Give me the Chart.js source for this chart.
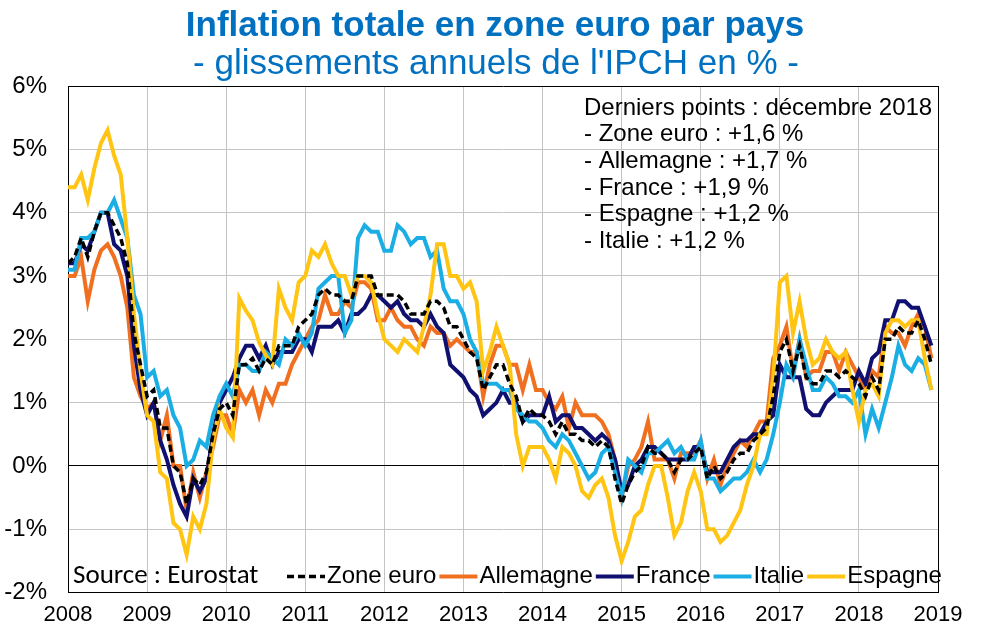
<!DOCTYPE html>
<html lang="fr">
<head>
<meta charset="utf-8">
<title>Inflation totale en zone euro par pays</title>
<script src="https://cdn.jsdelivr.net/npm/chart.js@4.4.1/dist/chart.umd.min.js"></script>
<style>
  html, body { margin: 0; padding: 0; background: #fff; }
</style>
</head>
<body>
<canvas id="chart" width="983" height="642"></canvas>
<script>
// Monthly annual rates of HICP, Jan 2008 -> Dec 2018 (one row per year)
const startYear = 2008;
const endYear = 2019;

const zoneEuro = [
  3.2, 3.3, 3.6, 3.3, 3.7, 4.0, 4.0, 3.8, 3.6, 3.2, 2.1, 1.6,
  1.1, 1.2, 0.6, 0.6, 0.0, -0.1, -0.6, -0.2, -0.3, -0.1, 0.5, 0.9,
  1.0, 0.8, 1.6, 1.6, 1.7, 1.5, 1.7, 1.6, 1.9, 1.9, 1.9, 2.2,
  2.3, 2.4, 2.7, 2.8, 2.7, 2.7, 2.6, 2.6, 3.0, 3.0, 3.0, 2.7,
  2.7, 2.7, 2.7, 2.6, 2.4, 2.4, 2.4, 2.6, 2.6, 2.5, 2.2, 2.2,
  2.0, 1.8, 1.7, 1.2, 1.4, 1.6, 1.6, 1.3, 1.1, 0.7, 0.9, 0.8,
  0.8, 0.7, 0.5, 0.7, 0.5, 0.5, 0.4, 0.4, 0.3, 0.4, 0.3, -0.2,
  -0.6, -0.3, -0.1, 0.0, 0.3, 0.2, 0.2, 0.1, -0.1, 0.1, 0.1, 0.2,
  0.3, -0.2, 0.0, -0.2, -0.1, 0.1, 0.2, 0.2, 0.4, 0.5, 0.6, 1.1,
  1.8, 2.0, 1.5, 1.9, 1.4, 1.3, 1.3, 1.5, 1.5, 1.4, 1.5, 1.4,
  1.3, 1.1, 1.4, 1.2, 2.0, 2.0, 2.2, 2.1, 2.1, 2.3, 2.0, 1.6
];

const allemagne = [
  3.0, 3.0, 3.3, 2.6, 3.1, 3.4, 3.5, 3.3, 3.0, 2.5, 1.4, 1.1,
  0.9, 1.0, 0.4, 0.8, 0.0, 0.0, -0.7, -0.1, -0.5, -0.1, 0.3, 0.8,
  0.8, 0.5, 1.2, 1.0, 1.2, 0.8, 1.2, 1.0, 1.3, 1.3, 1.6, 1.8,
  2.0, 2.2, 2.3, 2.7, 2.4, 2.4, 2.6, 2.5, 2.9, 2.9, 2.8, 2.3,
  2.3, 2.5, 2.3, 2.2, 2.2, 2.0, 1.9, 2.2, 2.1, 2.1, 1.9, 2.0,
  1.9, 1.8, 1.8, 1.1, 1.6, 1.9, 1.9, 1.6, 1.6, 1.2, 1.6, 1.2,
  1.2, 1.0, 0.9, 1.1, 0.6, 1.0, 0.8, 0.8, 0.8, 0.7, 0.5, 0.1,
  -0.5, 0.0, 0.1, 0.3, 0.7, 0.1, 0.1, 0.1, -0.2, 0.2, 0.2, 0.2,
  0.4, -0.2, 0.1, -0.3, 0.0, 0.2, 0.4, 0.3, 0.5, 0.7, 0.7, 1.7,
  1.9, 2.2, 1.5, 2.0, 1.4, 1.5, 1.5, 1.8, 1.8, 1.5, 1.8, 1.6,
  1.4, 1.2, 1.5, 1.4, 2.2, 2.1, 2.1, 1.9, 2.2, 2.4, 2.2, 1.7
];

const france = [
  3.2, 3.2, 3.5, 3.4, 3.7, 4.0, 4.0, 3.5, 3.4, 3.0, 1.9, 1.2,
  0.8, 1.0, 0.4, 0.1, -0.3, -0.6, -0.8, -0.2, -0.4, -0.2, 0.5, 1.0,
  1.2, 1.4, 1.7, 1.9, 1.9, 1.7, 1.9, 1.6, 1.8, 1.8, 1.8, 2.0,
  2.0, 1.8, 2.2, 2.2, 2.2, 2.3, 2.1, 2.4, 2.4, 2.5, 2.7, 2.7,
  2.6, 2.5, 2.6, 2.4, 2.3, 2.3, 2.2, 2.4, 2.2, 2.1, 1.6, 1.5,
  1.4, 1.2, 1.1, 0.8, 0.9, 1.0, 1.2, 1.0, 1.0, 0.7, 0.8, 0.8,
  0.8, 1.1, 0.7, 0.8, 0.8, 0.6, 0.6, 0.5, 0.4, 0.5, 0.4, 0.1,
  -0.4, -0.3, 0.0, 0.1, 0.3, 0.3, 0.2, 0.1, 0.1, 0.1, 0.1, 0.3,
  0.3, -0.1, -0.1, -0.1, 0.1, 0.3, 0.4, 0.4, 0.5, 0.5, 0.7, 0.8,
  1.6, 1.4, 1.4, 1.4, 0.9, 0.8, 0.8, 1.0, 1.1, 1.2, 1.2, 1.2,
  1.5, 1.3, 1.7, 1.8, 2.3, 2.3, 2.6, 2.6, 2.5, 2.5, 2.2, 1.9
];

const italie = [
  3.1, 3.1, 3.6, 3.6, 3.7, 4.0, 4.0, 4.2, 3.9, 3.6, 2.7, 2.4,
  1.4, 1.5, 1.1, 1.2, 0.8, 0.6, 0.0, 0.1, 0.4, 0.3, 0.8, 1.1,
  1.3, 1.1, 1.6, 1.6, 1.5, 1.5, 1.8, 1.7, 1.6, 2.0, 1.9, 2.1,
  1.9, 2.1, 2.8, 2.9, 3.0, 3.0, 2.1, 2.3, 3.6, 3.8, 3.7, 3.7,
  3.4, 3.4, 3.8, 3.7, 3.5, 3.6, 3.6, 3.3, 3.4, 2.8, 2.6, 2.6,
  2.4, 2.0, 1.8, 1.3, 1.3, 1.3, 1.2, 1.2, 0.9, 0.8, 0.7, 0.7,
  0.6, 0.4, 0.3, 0.5, 0.4, 0.2, 0.0, -0.2, -0.1, 0.2, 0.3, -0.1,
  -0.5, 0.1, 0.0, -0.1, 0.2, 0.2, 0.3, 0.4, 0.2, 0.3, 0.1, 0.1,
  0.4, -0.2, -0.2, -0.4, -0.3, -0.2, -0.2, -0.1, 0.1, -0.1, 0.1, 0.5,
  1.0, 1.6, 1.4, 2.0, 1.6, 1.2, 1.2, 1.4, 1.3, 1.1, 1.1, 1.0,
  1.2, 0.5, 0.9, 0.6, 1.0, 1.4, 1.9, 1.6, 1.5, 1.7, 1.6, 1.2
];

const espagne = [
  4.4, 4.4, 4.6, 4.2, 4.7, 5.1, 5.3, 4.9, 4.6, 3.6, 2.4, 1.5,
  0.8, 0.7, -0.1, -0.2, -0.9, -1.0, -1.4, -0.8, -1.0, -0.6, 0.4, 0.9,
  0.6, 0.45, 2.65, 2.45, 2.3, 1.95, 1.75, 1.6, 2.8, 2.5, 2.3, 2.9,
  3.0, 3.4, 3.3, 3.5, 3.2, 3.0, 3.0, 2.7, 3.0, 3.0, 2.9, 2.4,
  2.0, 1.9, 1.8, 2.0, 1.9, 1.8, 2.2, 2.7, 3.5, 3.5, 3.0, 3.0,
  2.8, 2.9, 2.6, 1.5, 1.8, 2.2, 1.9, 1.6, 0.5, 0.0, 0.3, 0.3,
  0.3, 0.1, -0.2, 0.3, 0.2, 0.0, -0.4, -0.5, -0.3, -0.2, -0.5, -1.1,
  -1.5, -1.2, -0.8, -0.7, -0.3, 0.0, 0.0, -0.5, -1.1, -0.9, -0.4, -0.1,
  -0.4, -1.0, -1.0, -1.2, -1.1, -0.9, -0.7, -0.3, 0.0, 0.5, 0.5, 1.4,
  2.9, 3.0, 2.1, 2.6, 2.0, 1.6, 1.7, 2.0, 1.8, 1.7, 1.8, 1.2,
  0.7, 1.2, 1.3, 1.1, 2.1, 2.3, 2.3, 2.2, 2.3, 2.3, 1.7, 1.2
];

const seriesNames = ['Zone euro', 'Allemagne', 'France', 'Italie', 'Espagne'];
// order of the lines in the "derniers points" note
const noteOrder = ['Zone euro', 'Allemagne', 'France', 'Espagne', 'Italie'];
const yMin = -2, yMax = 6;

const BLUE = '#0070C0';
const FONT = "'Liberation Sans', Arial, sans-serif";

function toPoints(values) {
    return values.map((v, i) => ({ x: startYear + i / 12, y: v }));
}

const lineStyles = [
    { color: '#000000', width: 3.5, dash: [7, 4], order: 0 },
    { color: '#F07020', width: 4, dash: [], order: 4 },
    { color: '#101070', width: 4, dash: [], order: 3 },
    { color: '#1AAEE5', width: 4, dash: [], order: 2 },
    { color: '#FFC512', width: 4, dash: [], order: 1 }
];
const allSeries = [zoneEuro, allemagne, france, italie, espagne];

const datasets = allSeries.map((values, k) => ({
    label: seriesNames[k],
    data: toPoints(values),
    borderColor: lineStyles[k].color,
    backgroundColor: lineStyles[k].color,
    borderWidth: lineStyles[k].width,
    borderDash: lineStyles[k].dash,
    order: lineStyles[k].order,
    pointRadius: 0,
    tension: 0,
    fill: false
}));

function fmt(v) {
    return '+' + v.toFixed(1).replace('.', ',') + ' %';
}

// Titles, source, legend and last points note
const decorPlugin = {
    id: 'decor',
    afterDraw(chart) {
        const { ctx, chartArea } = chart;
        ctx.save();
        ctx.textBaseline = 'middle';

        // titles
        ctx.fillStyle = BLUE;
        ctx.textAlign = 'center';
        ctx.font = 'bold 35px ' + FONT;
        ctx.fillText('Inflation totale en zone euro par pays', 495, 26);
        ctx.font = '35px ' + FONT;
        ctx.fillText("- glissements annuels de l'IPCH en % -", 496, 64);

        // last points note
        ctx.fillStyle = '#000';
        ctx.font = '24px ' + FONT;
        ctx.textAlign = 'left';
        const noteX = chartArea.left + 516;
        let noteY = chartArea.top + 22;
        ctx.fillText('Derniers points : décembre 2018', noteX, noteY);
        noteOrder.forEach(name => {
            noteY += 26.7;
            const values = allSeries[seriesNames.indexOf(name)];
            ctx.fillText('- ' + name + ' : ' + fmt(values[values.length - 1]), noteX, noteY);
        });

        // source
        const legY = chartArea.bottom - 16;
        ctx.font = "27px Carlito, Lato, sans-serif";
        ctx.fillText('Source : Eurostat', chartArea.left + 5, legY);

        // legend
        ctx.font = '24px ' + FONT;
        let x = chartArea.left + 219;
        chart.data.datasets.forEach(ds => {
            ctx.beginPath();
            ctx.strokeStyle = ds.borderColor;
            ctx.lineWidth = ds.borderWidth;
            ctx.setLineDash(ds.borderDash);
            ctx.moveTo(x, legY);
            ctx.lineTo(x + 38, legY);
            ctx.stroke();
            ctx.setLineDash([]);
            const textX = x + 40;
            ctx.fillText(ds.label, textX, legY);
            x = textX + ctx.measureText(ds.label).width + 3;
        });
        ctx.restore();
    }
};

new Chart(document.getElementById('chart'), {
    type: 'line',
    data: { datasets: datasets },
    plugins: [decorPlugin],
    options: {
        responsive: false,
        animation: false,
        layout: { padding: { left: 4, right: 45, bottom: 5, top: 86 } },
        plugins: {
            legend: { display: false },
            tooltip: { enabled: false },
            title: { display: false }
        },
        scales: {
            x: {
                type: 'linear',
                min: startYear,
                max: endYear,
                ticks: {
                    stepSize: 1,
                    autoSkip: false,
                    maxRotation: 0,
                    color: '#000',
                    font: { family: FONT, size: 22 },
                    padding: 9,
                    callback: v => String(v)
                },
                grid: {
                    drawTicks: false,
                    color: c => (c.tick && (c.tick.value === startYear || c.tick.value === endYear)) ? '#000' : '#c4c4c4'
                },
                border: { display: true, color: '#000' }
            },
            y: {
                min: yMin,
                max: yMax,
                afterFit: scale => { scale.width = 64; },
                ticks: {
                    stepSize: 1,
                    color: '#000',
                    font: { family: FONT, size: 24 },
                    padding: 21,
                    callback: v => v + '%'
                },
                grid: {
                    drawTicks: false,
                    color: c => (c.tick && (c.tick.value === 0 || c.tick.value === yMax)) ? '#000' : '#c4c4c4'
                },
                border: { display: true, color: '#000' }
            }
        }
    }
});
</script>
</body>
</html>
